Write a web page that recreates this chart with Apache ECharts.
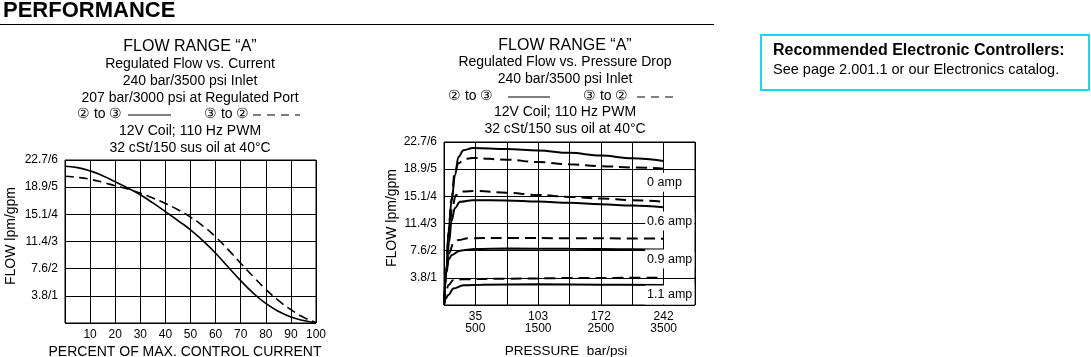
<!DOCTYPE html>
<html><head><meta charset="utf-8">
<script src="https://cdn.jsdelivr.net/npm/echarts@6/dist/echarts.min.js"></script>
<style>html,body{margin:0;padding:0;background:#fff}#c{width:1091px;height:357px}</style>
</head><body><div id="c"></div>
<script>
const FONT = '"Liberation Sans", Arial, Helvetica, sans-serif';

// ---- Left chart: Regulated Flow vs. Current (x = % of max current, y = gpm)
const currentPct = [0,5,10,15,20,25,30,35,40,45,50,55,60,65,70,75,80,85,90,95,100];
const flow23VsCurrent = [5.77,5.72,5.6,5.42,5.2,4.97,4.72,4.42,4.1,3.77,3.43,3.02,2.57,2.06,1.56,1.1,0.72,0.43,0.22,0.09,0.0];
const flow32VsCurrent = [5.4,5.36,5.29,5.18,5.05,4.93,4.78,4.6,4.4,4.17,3.9,3.57,3.17,2.7,2.2,1.71,1.24,0.83,0.49,0.21,0.02];
const flowTickLabels = ['', '3.8/1', '7.6/2', '11.4/3', '15.1/4', '18.9/5', '22.7/6'];

// ---- Right chart: Regulated Flow vs. Pressure Drop (x = psi, y = gpm)
const pressureTickPsi = [500, 1500, 2500, 3500];
const pressureTickBar = [35, 103, 172, 242];
const amp0_23  = [[0,0],[40,1.3],[70,2.7],[120,3.8],[175,4.78],[230,5.45],[310,5.7],[460,5.78],[1000,5.74],[1500,5.69],[2000,5.6],[2500,5.5],[3000,5.4],[3500,5.3]];
const amp0_32  = [[0,0],[40,1.3],[70,2.6],[120,3.9],[170,4.85],[230,5.22],[330,5.38],[450,5.41],[1000,5.35],[1500,5.26],[2000,5.18],[2500,5.11],[3000,5.06],[3500,5.02]];
const amp06_23 = [[0,0],[40,1.2],[80,2.3],[120,3.1],[175,3.57],[255,3.8],[460,3.86],[1000,3.85],[1500,3.81],[2000,3.76],[2500,3.71],[3000,3.66],[3500,3.6]];
const amp06_32 = [[0,0],[40,1.3],[80,2.6],[130,3.6],[190,4.05],[300,4.18],[500,4.2],[1000,4.13],[1500,4.05],[2000,3.98],[2500,3.92],[3000,3.86],[3500,3.8]];
const amp09_23 = [[0,0],[20,0.8],[43,1.41],[80,1.7],[123,1.84],[255,2.0],[500,2.06],[1000,2.08],[2000,2.07],[3000,2.05],[3500,2.04]];
const amp09_32 = [[0,0],[40,1.2],[80,1.9],[150,2.27],[230,2.39],[390,2.46],[1000,2.47],[2000,2.46],[3000,2.45],[3500,2.44]];
const amp11_23 = [[0,0],[30,0.25],[70,0.37],[150,0.61],[310,0.73],[600,0.75],[1500,0.76],[2500,0.75],[3500,0.74]];
const amp11_32 = [[0,0],[30,0.45],[70,0.73],[150,0.92],[300,0.95],[1000,0.97],[2000,0.99],[3000,1.0],[3500,1.0]];
const ampLabels = ['0 amp', '0.6 amp', '0.9 amp', '1.1 amp'];
const ampLabelAnchorPsi = [3205, 3205, 3205, 3205];
const ampLabelAnchorGpm = [4.52, 3.09, 1.69, 0.37];

const chart = echarts.init(document.getElementById('c'), null, {renderer: 'canvas'});

const axisTxt = {color: '#000', fontFamily: FONT, fontSize: 12};
const split = {show: true, lineStyle: {color: '#000', width: 1}};

function yAxis(gi) {
  return {type: 'value', gridIndex: gi, min: 0, max: 6, interval: 1,
    axisLine: {show: false}, axisTick: {show: false}, splitLine: split,
    axisLabel: Object.assign({}, axisTxt, {margin: 7, formatter: v => flowTickLabels[v] || ''})};
}

function curve(data, xi, w, dash, smoothCfg) {
  const s = {type: 'line', xAxisIndex: xi, yAxisIndex: xi, data, showSymbol: false, symbol: 'none',
    lineStyle: {color: '#000', width: w, type: dash || 'solid'}, z: 3};
  Object.assign(s, smoothCfg);
  return s;
}
const leftSmooth = {smooth: 0.5};
const rightSmooth = {smooth: 0.4, smoothMonotone: 'x'};

const leftSolid = currentPct.map((x, i) => [x, flow23VsCurrent[i]]);
const leftDash = currentPct.map((x, i) => [x, flow32VsCurrent[i]]);
const labelData = ampLabels.map((t, i) => [ampLabelAnchorPsi[i], ampLabelAnchorGpm[i], t]);

function txt(text, x, y, size, extra) {
  return Object.assign({type: 'text', x, y, silent: true,
    style: {text, fill: '#000', font: (extra && extra.bold ? 'bold ' : '') + size + 'px ' + FONT,
      textAlign: (extra && extra.align) || 'center', textVerticalAlign: 'middle'}},
    extra && extra.rotation ? {rotation: extra.rotation} : {});
}
function seg(x1, x2, y, dash) {
  return {type: 'line', silent: true, shape: {x1, y1: y, x2, y2: y},
    style: {stroke: '#000', lineWidth: 1.2, lineDash: dash || null}};
}

const graphics = [
  txt('PERFORMANCE', 3, 11, 22, {bold: true, align: 'left'}),
  seg(0, 714, 24.5),
  // left titles
  txt('FLOW RANGE “A”', 190, 47, 16),
  txt('Regulated Flow vs. Current', 190, 64, 14),
  txt('240 bar/3500 psi Inlet', 190, 81, 14),
  txt('207 bar/3000 psi at Regulated Port', 190, 98.5, 14),
  txt('② to ③', 77, 114, 14, {align: 'left'}),
  seg(128, 171, 115),
  txt('③ to ②', 204, 114, 14, {align: 'left'}),
  seg(253, 300, 115, [8, 6]),
  txt('12V Coil; 110 Hz PWM', 190, 131, 14),
  txt('32 cSt/150 sus oil at 40°C', 190, 148, 14),
  txt('FLOW lpm/gpm', 11, 236, 14, {rotation: Math.PI / 2}),
  txt('PERCENT OF MAX. CONTROL CURRENT', 185, 352, 14),
  // right titles
  txt('FLOW RANGE “A”', 565, 46, 16),
  txt('Regulated Flow vs. Pressure Drop', 565, 62.5, 14),
  txt('240 bar/3500 psi Inlet', 565, 79, 14),
  txt('② to ③', 448, 96, 14, {align: 'left'}),
  seg(508, 550, 97),
  txt('③ to ②', 583, 96, 14, {align: 'left'}),
  seg(637, 678, 97, [8, 6]),
  txt('12V Coil; 110 Hz PWM', 565, 112, 14),
  txt('32 cSt/150 sus oil at 40°C', 565, 129, 14),
  txt('FLOW lpm/gpm', 392, 218, 14, {rotation: Math.PI / 2}),
  txt('PRESSURE  bar/psi', 566, 351, 13.5),
  // controller box
  {type: 'rect', silent: true, shape: {x: 761, y: 35, width: 328, height: 55},
    style: {fill: '#fff', stroke: '#1ed4f2', lineWidth: 2}},
  txt('Recommended Electronic Controllers:', 773, 51, 16, {bold: true, align: 'left'}),
  txt('See page 2.001.1 or our Electronics catalog.', 773, 70, 14.5, {align: 'left'})
];

chart.setOption({
  animation: false,
  backgroundColor: '#fff',
  textStyle: {fontFamily: FONT},
  grid: [
    {left: 65, top: 160, width: 251, height: 163, show: true, borderColor: '#000', borderWidth: 1, backgroundColor: 'transparent'},
    {left: 444, top: 142, width: 251, height: 163, show: true, borderColor: '#000', borderWidth: 1, backgroundColor: 'transparent'}
  ],
  xAxis: [
    {type: 'value', gridIndex: 0, min: 0, max: 100, interval: 10,
      axisLine: {show: false}, axisTick: {show: false}, splitLine: split,
      axisLabel: Object.assign({}, axisTxt, {margin: 6, formatter: v => v === 0 ? '' : String(v)})},
    {type: 'value', gridIndex: 1, min: 0, max: 4000, interval: 500,
      axisLine: {show: false}, axisTick: {show: false}, splitLine: split,
      axisLabel: Object.assign({}, axisTxt, {margin: 6, lineHeight: 12, showMaxLabel: true,
        formatter: v => { const i = pressureTickPsi.indexOf(v); return i < 0 ? '' : pressureTickBar[i] + '\n' + pressureTickPsi[i]; }})}
  ],
  yAxis: [yAxis(0), yAxis(1)],
  series: [
    curve(leftSolid, 0, 1.6, 'solid', leftSmooth),
    curve(leftDash, 0, 1.6, [9, 5], leftSmooth),
    curve(amp0_23, 1, 2, 'solid', rightSmooth),
    curve(amp0_32, 1, 2, [11, 6], rightSmooth),
    curve(amp06_23, 1, 2, 'solid', rightSmooth),
    curve(amp06_32, 1, 2, [11, 6], rightSmooth),
    curve(amp09_23, 1, 2, 'solid', rightSmooth),
    curve(amp09_32, 1, 2, [11, 6], rightSmooth),
    curve(amp11_23, 1, 2, 'solid', rightSmooth),
    curve(amp11_32, 1, 2, [11, 6], rightSmooth),
    {type: 'scatter', xAxisIndex: 1, yAxisIndex: 1, data: labelData, symbolSize: 0,
      itemStyle: {color: '#000', opacity: 1}, z: 6, silent: true,
      emphasis: {disabled: true},
      label: {show: true, position: 'right', distance: 0, formatter: p => p.value[2],
        color: '#000', opacity: 1, fontFamily: FONT, fontSize: 12.5, backgroundColor: '#fff', padding: [3, 2]}}
  ],
  graphic: graphics
});
</script></body></html>
